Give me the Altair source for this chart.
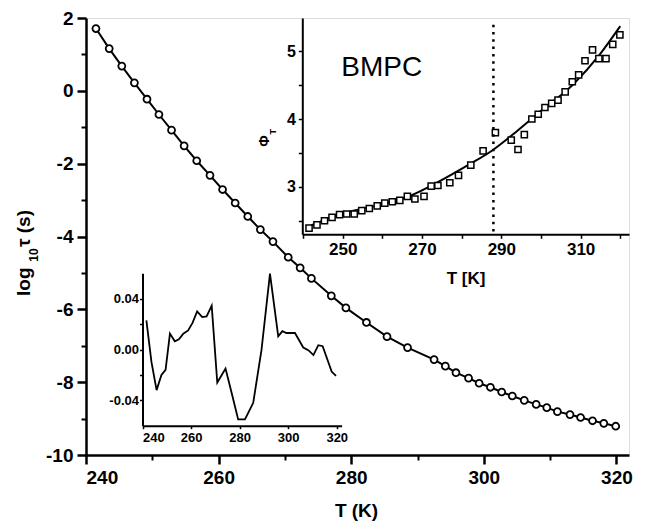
import altair as alt
import pandas as pd

# ---------------- data ----------------
# Main panel: temperature (K) and log10 tau (s)
T = [241.5, 243.5, 245.4, 247.3, 249.2, 251.0, 252.9, 254.8, 256.7, 258.7,
     260.6, 262.5, 264.4, 266.3, 268.2, 270.5, 272.3, 274.0, 277.0, 279.2,
     282.3, 285.4, 288.5, 292.5, 294.2, 295.8, 297.7, 299.3, 301.0, 302.7,
     304.3, 306.1, 307.9, 309.5, 311.1, 313.0, 314.6, 316.4, 318.1, 319.9]
logtau = [1.71, 1.16, 0.68, 0.22, -0.23, -0.65, -1.08, -1.51, -1.92, -2.32,
          -2.71, -3.08, -3.45, -3.81, -4.14, -4.57, -4.86, -5.15, -5.63, -5.96,
          -6.36, -6.75, -7.05, -7.38, -7.56, -7.74, -7.89, -8.03, -8.14, -8.27,
          -8.38, -8.50, -8.61, -8.70, -8.81, -8.89, -8.97, -9.06, -9.13, -9.21]

# Top-right inset (BMPC): Phi_T at the same temperatures
phi = [2.39, 2.44, 2.50, 2.55, 2.59, 2.60, 2.60, 2.65, 2.68, 2.72,
       2.76, 2.78, 2.80, 2.86, 2.82, 2.86, 3.01, 3.02, 3.06, 3.17,
       3.32, 3.53, 3.80, 3.69, 3.55, 3.77, 4.00, 4.07, 4.17, 4.23,
       4.28, 4.40, 4.55, 4.65, 4.86, 5.02, 4.89, 4.89, 5.10, 5.24]
fit_T = [242.0, 249.0, 259.0, 267.5, 273.4, 281.9, 287.8, 293.7, 299.6, 308.1, 314.8, 320.0]
fit_phi = [2.43, 2.59, 2.73, 2.88, 3.05, 3.33, 3.54, 3.81, 4.10, 4.51, 4.95, 5.37]
transition_T = [288.0]
transition_lo = [2.34]
transition_hi = [5.43]

# Bottom-left inset: residuals
res_T = [241.6, 243.7, 245.8, 247.8, 249.5, 251.3, 253.3, 255.0, 256.8, 258.8,
         260.6, 262.5, 264.6, 266.4, 268.5, 270.8, 274.2, 276.7, 279.4, 282.2,
         285.6, 289.0, 292.5, 295.9, 297.6, 299.3, 302.8, 306.2, 308.3, 310.4,
         312.4, 314.2, 317.9, 319.7]
res_v = [0.023, -0.010, -0.032, -0.020, -0.016, 0.0125, 0.0065, 0.008, 0.0125, 0.015,
         0.021, 0.030, 0.0255, 0.026, 0.0345, -0.026, -0.015, -0.034, -0.055, -0.055,
         -0.042, -0.0005, 0.0597, 0.0104, 0.0145, 0.013, 0.013, 0.0016, -0.0005, -0.0044,
         0.0034, 0.0026, -0.0174, -0.0208]

main_x_ticks = [240, 260, 280, 300, 320]
main_x_minor = [250, 270, 290, 310]
main_y_ticks = [-10, -8, -6, -4, -2, 0, 2]
main_y_minor = [-9, -7, -5, -3, -1, 1]
phi_x_ticks = [240, 250, 260, 270, 280, 290, 300, 310, 320]
phi_y_ticks = [2.5, 3, 3.5, 4, 4.5, 5]
res_x_ticks = [240, 260, 280, 300, 320]
res_y_ticks = [-0.04, -0.02, 0.0, 0.02, 0.04]

# ---------------- layout ----------------
W, H = 543, 437
FONT = "Liberation Sans"

main_df = pd.DataFrame({"T": T, "logtau": logtau})
phi_df = pd.DataFrame({"T": T, "phi": phi})
fit_df = pd.DataFrame({"T": fit_T, "phi": fit_phi})
tr_df = pd.DataFrame({"T": transition_T, "lo": transition_lo, "hi": transition_hi})
res_df = pd.DataFrame({"T": res_T, "r": res_v})

def sc(domain, rng):
    return alt.Scale(domain=domain, range=rng, nice=False, zero=False)

PHI_BOTTOM = 216.3
RES_BOTTOM, RES_TOP = 407.7, 255.3
x_main = sc([240, 321.9], [0, W])
y_main = sc([-10, 2], [H, 0])
x_phi = sc([239.8, 322.2], [216.3, W])
y_phi = sc([2.3, 5.49], [PHI_BOTTOM, 0])
x_res = sc([240, 322], [56.5, 255.6])
y_res = sc([-0.06, 0.06], [RES_BOTTOM, RES_TOP])

base_axis = dict(domainColor="black", tickColor="black", labelColor="black",
                 labelFont=FONT, labelFontWeight="bold", grid=False, title=None)

main_x_axis = alt.Axis(orient="bottom", values=main_x_ticks, tickSize=9, tickWidth=2.5,
                       domainWidth=2.5, labelFontSize=19, labelPadding=4, **base_axis)
main_y_axis = alt.Axis(orient="left", values=main_y_ticks, tickSize=9, tickWidth=2.5,
                       domainWidth=2.5, labelFontSize=19, labelPadding=4,
                       labelExpr="datum.value < 0 ? '-' + abs(datum.value) : '' + datum.value",
                       **base_axis)
minor_x_axis = alt.Axis(orient="bottom", values=main_x_minor, tickSize=5, tickWidth=2,
                        domain=False, labels=False, **base_axis)
minor_y_axis = alt.Axis(orient="left", values=main_y_minor, tickSize=5, tickWidth=2,
                        domain=False, labels=False, **base_axis)

phi_x_axis = alt.Axis(orient="bottom", values=phi_x_ticks, offset=-(H - PHI_BOTTOM), tickSize=4,
                      tickWidth=1.5, domainWidth=2, labelFontSize=17, labelPadding=3,
                      labelExpr="(datum.value - 250) % 20 == 0 ? '' + datum.value : ''",
                      **base_axis)
phi_y_axis = alt.Axis(orient="left", values=phi_y_ticks, offset=-216.3, tickSize=4,
                      tickWidth=1.5, domainWidth=2, labelFontSize=16, labelPadding=3,
                      labelExpr="datum.value % 1 == 0 ? '' + datum.value : ''",
                      **base_axis)

res_x_axis = alt.Axis(orient="bottom", values=res_x_ticks, offset=-(H - RES_BOTTOM), tickSize=3,
                      tickWidth=1.5, domainWidth=2, labelFontSize=13, labelPadding=3,
                      **base_axis)
res_y_axis = alt.Axis(orient="left", values=res_y_ticks, offset=-56.5, tickSize=3,
                      tickWidth=1.5, domainWidth=2, labelFontSize=13, labelPadding=1,
                      labelExpr="datum.value > 0.03 ? '0.04' : (datum.value < -0.03 ? '-0.04' : (abs(datum.value) < 0.001 ? '0.00' : ''))",
                      **base_axis)

# main panel
main_line = alt.Chart(main_df).mark_line(color="black", strokeWidth=2).encode(
    x=alt.X("T:Q", scale=x_main, axis=main_x_axis),
    y=alt.Y("logtau:Q", scale=y_main, axis=main_y_axis))
main_pts = alt.Chart(main_df).mark_point(shape="circle", filled=True, fill="white",
                                         stroke="black", strokeWidth=1.8, size=48,
                                         opacity=1).encode(
    x=alt.X("T:Q", scale=x_main, axis=None),
    y=alt.Y("logtau:Q", scale=y_main, axis=None))
main_minor = alt.Chart(main_df).mark_point(opacity=0).encode(
    x=alt.X("T:Q", scale=x_main, axis=minor_x_axis),
    y=alt.Y("logtau:Q", scale=y_main, axis=minor_y_axis))

# BMPC inset
phi_fit = alt.Chart(fit_df).mark_line(color="black", strokeWidth=2, interpolate="monotone").encode(
    x=alt.X("T:Q", scale=x_phi, axis=phi_x_axis),
    y=alt.Y("phi:Q", scale=y_phi, axis=phi_y_axis))
phi_pts = alt.Chart(phi_df).mark_point(shape="square", filled=True, fill="white",
                                       stroke="black", strokeWidth=1.5, size=38,
                                       opacity=1).encode(
    x=alt.X("T:Q", scale=x_phi, axis=None),
    y=alt.Y("phi:Q", scale=y_phi, axis=None))
phi_rule = alt.Chart(tr_df).mark_rule(color="black", strokeWidth=2.5,
                                      strokeDash=[2.5, 4.8]).encode(
    x=alt.X("T:Q", scale=x_phi, axis=None),
    y=alt.Y("lo:Q", scale=y_phi, axis=None),
    y2="hi:Q")

# residual inset
res_line = alt.Chart(res_df).mark_line(color="black", strokeWidth=1.8).encode(
    x=alt.X("T:Q", scale=x_res, axis=res_x_axis),
    y=alt.Y("r:Q", scale=y_res, axis=res_y_axis))

# text labels
one = pd.DataFrame({"a": [0]})
def label(txt, x, y, size, weight="bold", angle=0):
    return alt.Chart(one).mark_text(text=txt, font=FONT, fontSize=size, fontWeight=weight,
                                    angle=angle, align="center", baseline="middle",
                                    color="black").encode(x=alt.value(x), y=alt.value(y))

texts = [
    label("BMPC", 295.7, 50.3, 28, weight="normal"),
    label("Φ", 179, 123, 14, angle=270),
    label("T", 187.3, 113.7, 9, angle=270),
    label("log", -62, 263.7, 19, angle=270),
    label("10", -52, 237, 12, angle=270),
    label("τ  (s)", -62, 210.5, 19, angle=270),
    label("T  (K)", 270.5, 493, 19),
    label("T [K]", 380, 261, 17),
]

chart = alt.layer(main_line, main_pts, main_minor, phi_fit, phi_pts, phi_rule, res_line,
                  *texts).resolve_scale(
    x="independent", y="independent").resolve_axis(
    x="independent", y="independent").properties(
    width=W, height=H,
    padding={"left": 78, "top": 10, "right": 15, "bottom": 68},
    autosize=alt.AutoSizeParams(type="none"),
    background="white",
).configure_view(stroke="black", strokeWidth=2.5).configure(font=FONT)

chart.save("out.html", embed_options={"renderer": "svg", "actions": False})
